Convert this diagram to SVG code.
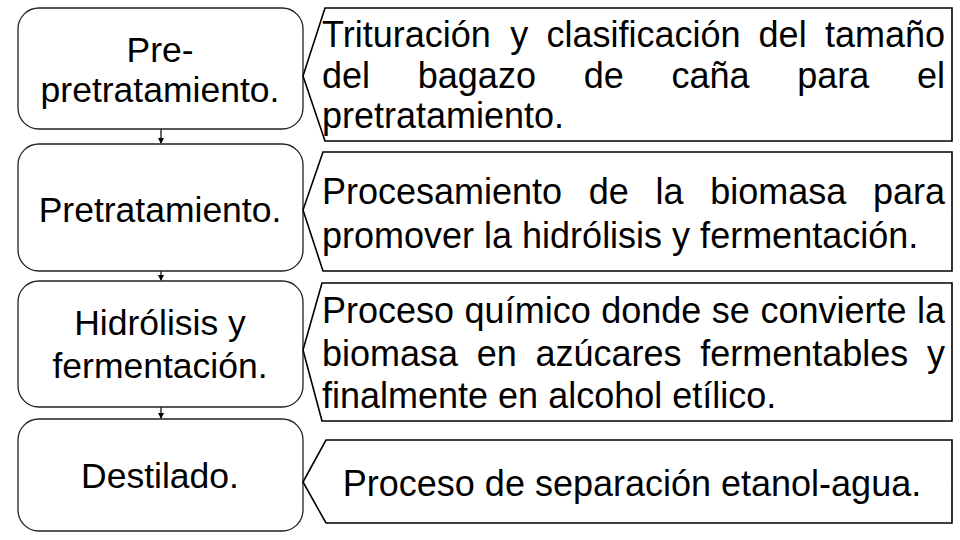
<svg xmlns="http://www.w3.org/2000/svg" width="960" height="540" viewBox="0 0 960 540">
<style>
.box{fill:#fff;stroke:#222;stroke-width:1.3}
.call{fill:#fff;stroke:#000;stroke-width:1.6;stroke-linejoin:miter}
.bt{font-family:"Liberation Sans",Arial,sans-serif;font-size:35.5px;fill:#000;text-anchor:middle}
.ct{font-family:"Liberation Sans",Arial,sans-serif;font-size:36px;fill:#000}
.e{text-anchor:end}
.conn{stroke:#000;stroke-width:1.2;fill:none}
</style>
<defs>
<marker id="ah" markerWidth="6" markerHeight="6" refX="5" refY="3" orient="auto" markerUnits="userSpaceOnUse">
<path d="M0,0 L6,3 L0,6 z" fill="#000"/>
</marker>
</defs>
<rect width="960" height="540" fill="#fff"/>
<g id="connectors">
<line class="conn" x1="161" y1="129" x2="161" y2="143" marker-end="url(#ah)"/>
<line class="conn" x1="161" y1="271" x2="161" y2="280" marker-end="url(#ah)"/>
<line class="conn" x1="161" y1="407" x2="161" y2="418" marker-end="url(#ah)"/>
</g>
<g id="node1">
<rect class="box" x="18" y="8" width="285" height="121" rx="21"/>
<text class="bt" x="160" y="62">Pre-</text>
<text class="bt" x="160" y="102">pretratamiento.</text>
</g>
<g id="node2">
<rect class="box" x="18" y="144" width="285" height="127" rx="21"/>
<text class="bt" x="160" y="222">Pretratamiento.</text>
</g>
<g id="node3">
<rect class="box" x="18" y="281" width="285" height="126" rx="21"/>
<text class="bt" x="160" y="335">Hidrólisis y</text>
<text class="bt" x="160" y="378">fermentación.</text>
</g>
<g id="node4">
<rect class="box" x="18" y="419" width="285" height="112" rx="21"/>
<text class="bt" x="160" y="488">Destilado.</text>
</g>
<g id="callout1">
<polygon class="call" points="303,76 325,8 952,8 952,141 325,141"/>
<text class="ct" y="47"><tspan x="322">Trituración</tspan><tspan x="510.2">y</tspan><tspan x="546.4">clasificación</tspan><tspan x="758.6">del</tspan></text>
<text class="ct e" x="945" y="47">tamaño</text>
<text class="ct" y="88"><tspan x="322">del</tspan><tspan x="417.8">bagazo</tspan><tspan x="583.7">de</tspan><tspan x="671.5">caña</tspan><tspan x="797.3">para</tspan></text>
<text class="ct e" x="945" y="88">el</text>
<text class="ct" x="322" y="128">pretratamiento.</text>
</g>
<g id="callout2">
<polygon class="call" points="303,210 323,152 952,152 952,271 323,271"/>
<text class="ct" y="204"><tspan x="322">Procesamiento</tspan><tspan x="588.8">de</tspan><tspan x="655.5">la</tspan><tspan x="710.2">biomasa</tspan></text>
<text class="ct e" x="945" y="204">para</text>
<text class="ct" x="322" y="248">promover la hidrólisis y fermentación.</text>
</g>
<g id="callout3">
<polygon class="call" points="303,350 322,283 952,283 952,421 322,421"/>
<text class="ct" y="323"><tspan x="322">Proceso</tspan><tspan x="464.6">químico</tspan><tspan x="601.2">donde</tspan><tspan x="711.8">se</tspan><tspan x="760.4">convierte</tspan></text>
<text class="ct e" x="945" y="323">la</text>
<text class="ct" y="366"><tspan x="322">biomasa</tspan><tspan x="476.7">en</tspan><tspan x="535.4">azúcares</tspan><tspan x="700.2">fermentables</tspan></text>
<text class="ct e" x="945" y="366">y</text>
<text class="ct" x="322" y="408">finalmente en alcohol etílico.</text>
</g>
<g id="callout4">
<polygon class="call" points="303,482 326,440 952,440 952,523 326,523"/>
<text class="ct" x="632" y="496" text-anchor="middle">Proceso de separación etanol-agua.</text>
</g>
</svg>
